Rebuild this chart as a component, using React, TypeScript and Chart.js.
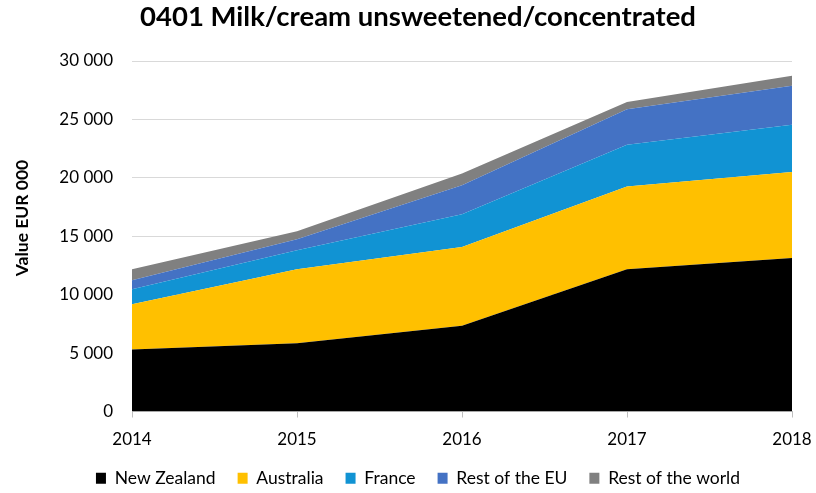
import React, { useEffect, useRef } from "react";
import { Chart, registerables } from "chart.js";

Chart.register(...registerables);

const years = ["2014", "2015", "2016", "2017", "2018"];
const newZealand = [5300, 5850, 7340, 12170, 13140];
const australia = [3870, 6320, 6740, 7090, 7350];
const france = [1290, 1630, 2810, 3570, 4050];
const restEU = [770, 940, 2480, 3030, 3340];
const restWorld = [940, 690, 1000, 630, 860];

const seriesNames = ["New Zealand", "Australia", "France", "Rest of the EU", "Rest of the world"];
const seriesColors = ["#000000", "#FFC000", "#1193D3", "#4472C4", "#808080"];

const FONT = "Lato, 'Open Sans', sans-serif";

const fmt = (v: number) => {
  const s = Math.round(v).toString();
  return s.replace(/\B(?=(\d{3})+(?!\d))/g, " ");
};

const yTitlePlugin = {
  id: "yTitlePlugin",
  afterDraw(chart: any) {
    const ctx = chart.ctx;
    ctx.save();
    ctx.translate(22, 218);
    ctx.rotate(-Math.PI / 2);
    ctx.font = `bold 17.5px ${FONT}`;
    ctx.fillStyle = "#000";
    ctx.textAlign = "center";
    ctx.textBaseline = "middle";
    ctx.fillText("Value EUR 000", 0, 0);
    ctx.restore();
  },
};

export default function App() {
  const ref = useRef<HTMLCanvasElement>(null);
  useEffect(() => {
    if (!ref.current) return;
    const data = [newZealand, australia, france, restEU, restWorld];
    const chart = new Chart(ref.current, {
      type: "line",
      data: {
        labels: years,
        datasets: data.map((d, i) => ({
          label: seriesNames[i],
          data: d,
          backgroundColor: seriesColors[i],
          borderColor: seriesColors[i],
          borderWidth: 0,
          pointRadius: 0,
          fill: i === 0 ? "origin" : "-1",
          tension: 0,
        })),
      },
      options: {
        animation: false,
        responsive: false,
        layout: { padding: { left: 44, right: 24, top: 0, bottom: -4 } },
        plugins: {
          title: {
            display: true,
            text: "0401 Milk/cream unsweetened/concentrated",
            font: { family: FONT, size: 27.5, weight: "bold" },
            color: "#000",
            padding: { top: 1, bottom: 27 },
          },
          legend: {
            position: "bottom",
            labels: {
              font: { family: FONT, size: 17.5 },
              color: "#000",
              boxWidth: 10,
              boxHeight: 11,
              padding: 22,
            },
          },
          tooltip: { enabled: false },
        },
        scales: {
          x: {
            type: "category",
            offset: false,
            grid: {
              display: true,
              drawOnChartArea: false,
              drawTicks: true,
              tickLength: 6,
              color: "#BFBFBF",
            },
            border: { display: true, color: "#BFBFBF" },
            ticks: {
              font: { family: FONT, size: 17 },
              color: "#000",
              padding: 12,
              maxRotation: 0,
            },
            afterFit(scale: any) {
              scale.height = 36;
              scale.paddingLeft = 0;
              scale.paddingRight = 0;
            },
          },
          y: {
            stacked: true,
            min: 0,
            max: 30000,
            grid: { color: "#D9D9D9", drawTicks: false },
            border: { display: false },
            ticks: {
              stepSize: 5000,
              font: { family: FONT, size: 17 },
              color: "#000",
              padding: 19,
              callback: (v: any) => fmt(Number(v)),
            },
            afterFit(scale: any) {
              scale.width = 88;
              scale.paddingTop = 0;
              scale.paddingBottom = 0;
            },
          },
        },
      },
      plugins: [yTitlePlugin],
    });
    return () => chart.destroy();
  }, []);
  return (
    <div style={{ position: "fixed", left: 0, top: 0, width: 816, height: 493, background: "#fff" }}>
      <canvas ref={ref} width={816} height={493} />
    </div>
  );
}
